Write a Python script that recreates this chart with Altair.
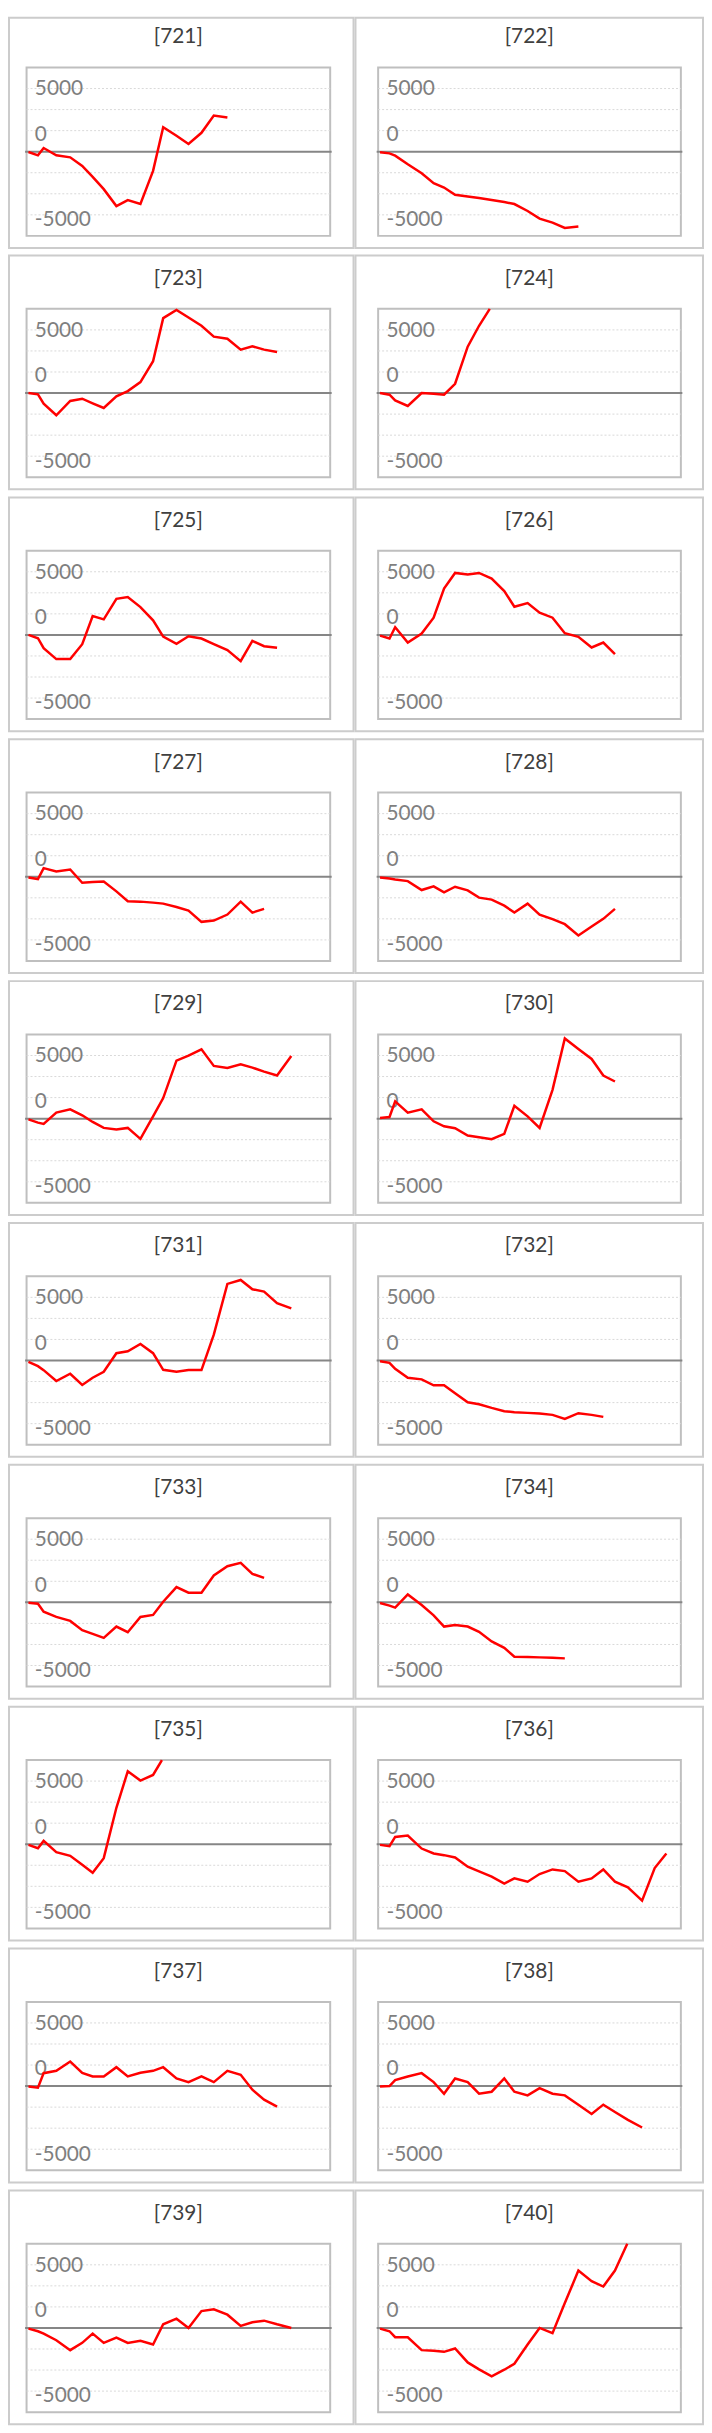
import altair as alt
import pandas as pd

# ---------------- data ----------------
# shared observation grid (x position of every observation, period units; 0..48 spans the plot box)
G = [0.3, 1.8, 2.7, 4.7, 6.9, 8.8, 10.45, 12.2, 14.2, 16.0, 18.0, 20.0, 21.6,
     23.7, 25.6, 27.65, 29.6, 31.75, 33.85, 35.7, 37.55, 39.6, 41.85, 43.85, 45.7]

V721 = [-40, -433, 433, -433, -669, -1693, -3000, -4449, -6457, -5748, -6220, -2283, 2913, 1900, 906, 2244, 4291, 4055]
V722 = [-79, -197, -472, -1496, -2559, -3740, -4252, -5118, -5315, -5512, -5748, -5984, -6220, -7047, -7953, -8425, -9055, -8898]
V723 = [0, -157, -1260, -2638, -945, -669, -1220, -1772, -394, 236, 1299, 3780, 8898, 9882, 8976, 7992, 6693, 6457, 5157, 5551, 5157, 4882]
V724 = [0, -197, -866, -1535, 0, -79, -197, 1102, 5512, 7992]
V725 = [0, -394, -1575, -2874, -2874, -1102, 2244, 1850, 4291, 4488, 3307, 1732, -197, -1063, -157, -433, -1102, -1811, -3110, -709, -1339, -1535]
V726 = [-79, -433, 906, -906, 157, 2047, 5512, 7362, 7165, 7362, 6693, 5197, 3346, 3780, 2638, 2047, 197, -236, -1496, -906, -2283]
V727 = [-79, -276, 1024, 630, 866, -709, -630, -551, -1732, -2913, -2953, -3071, -3189, -3583, -4016, -5354, -5197, -4488, -2953, -4252, -3819]
V728 = [-79, -197, -315, -512, -1575, -1142, -1850, -1181, -1614, -2480, -2717, -3425, -4252, -3189, -4488, -5039, -5630, -6969, -5906, -5000, -3819]
V729 = [-79, -472, -630, 709, 1102, 394, -394, -1102, -1299, -1102, -2402, 276, 2441, 6890, 7480, 8228, 6260, 6024, 6457, 6063, 5591, 5118, 7441]
V730 = [79, 197, 2047, 709, 1102, -315, -906, -1142, -2008, -2205, -2441, -1811, 1535, 276, -1102, 3425, 9528, 8268, 7087, 5118, 4409]
V731 = [-157, -669, -1142, -2441, -1575, -2913, -2047, -1339, 866, 1102, 1969, 866, -1102, -1339, -1142, -1142, 3071, 9095, 9567, 8465, 8189, 6811, 6181]
V732 = [-79, -276, -984, -2047, -2244, -2953, -2953, -3898, -4961, -5197, -5630, -6024, -6142, -6220, -6299, -6457, -6929, -6260, -6457, -6693]
V733 = [-39, -157, -1102, -1732, -2205, -3307, -3740, -4213, -2874, -3543, -1732, -1496, 79, 1811, 1142, 1142, 3189, 4291, 4685, 3386, 2913]
V734 = [-79, -394, -630, 945, -315, -1535, -2874, -2677, -2874, -3504, -4646, -5394, -6457, -6496, -6535, -6575, -6654]
V735 = [-79, -472, 394, -945, -1378, -2441, -3386, -1654, 4331, 8661, 7559, 8228]
V736 = [-79, -236, 866, 1024, -512, -1102, -1299, -1575, -2677, -3228, -3858, -4685, -4055, -4449, -3543, -2992, -3189, -4449, -4055, -2992, -4449, -5118, -6693, -2835, -1102]
V737 = [-39, -197, 1535, 1811, 2913, 1575, 1142, 1142, 2244, 1142, 1575, 1811, 2244, 906, 472, 1142, 472, 1811, 1339, -433, -1614, -2441]
V738 = [-39, 0, 709, 1142, 1535, 472, -906, 906, 472, -906, -669, 906, -669, -1102, -236, -906, -1102, -2205, -3307, -2205, -3071, -4016, -4921]
V739 = [-79, -394, -669, -1457, -2638, -1772, -669, -1772, -1142, -1772, -1535, -1969, 433, 1102, 0, 2008, 2205, 1575, 236, 669, 866, 433, 0]
V740 = [-79, -394, -1102, -1102, -2638, -2717, -2835, -2441, -4094, -4921, -5748, -4961, -4252, -1969, 0, -630, 2953, 6811, 5551, 4921, 6811]

NAMES = [str(n) for n in range(721, 741)]
VALUES = [V721, V722, V723, V724, V725, V726, V727, V728, V729, V730,
          V731, V732, V733, V734, V735, V736, V737, V738, V739, V740]
# series that leave the plot box through the top edge: x where they cross it
EXIT_X = {"724": 17.7, "735": 21.4, "740": 39.5}

TICK_TEXT = ["5000", "0", "-5000"]
GRID_Y = [7500, 5000, 2500, -2500, -5000, -7500]
Y_MIN, Y_MAX = -10000, 10000
X_MIN, X_MAX = 0, 48

# ---------------- layout (px) ----------------
PITCH = 243.1
COL_VIEW_X0 = [9.0, 358.0]
COL_VIEW_W = [347.0, 350.0]
COL_BOX = [(26.7, 332.5), (380.8, 685.7)]
COL_TITLE_X = [179.5, 533.0]
ROW0_VIEW_Y0 = 9.0
VIEW_Y0 = 5.5
VIEW_H = 235.5
ROW0_H = 232.0
BOX_TOP = 59.2
BOX_BOT = 228.8
TITLE_BASE = 35.0
LABEL_BASE = [87.3, 133.3, 219.0]
LABEL_DX = 8.3

FONT = "Lato"


def panel(i):
    name = NAMES[i]
    vals = VALUES[i]
    row, col = divmod(i, 2)
    x0 = COL_VIEW_X0[col]
    W = COL_VIEW_W[col]
    y0 = ROW0_VIEW_Y0 if row == 0 else VIEW_Y0 + row * PITCH
    H = ROW0_H if row == 0 else VIEW_H
    bx0, bx1 = COL_BOX[col]
    by0 = BOX_TOP + row * PITCH
    by1 = BOX_BOT + row * PITCH
    kx = (X_MAX - X_MIN) / (bx1 - bx0)
    ky = (Y_MAX - Y_MIN) / (by1 - by0)

    def ux(px):
        return X_MIN + (px - bx0) * kx

    def uy(py):
        return Y_MAX - (py - by0) * ky

    xs = alt.Scale(domain=[ux(x0), ux(x0 + W)], nice=False, zero=False)
    ys = alt.Scale(domain=[uy(y0 + H), uy(y0)], nice=False, zero=False)

    def X():
        return alt.X("x:Q", scale=xs, axis=None)

    def Y():
        return alt.Y("y:Q", scale=ys, axis=None)

    box = alt.Chart(pd.DataFrame({"x": [X_MIN], "x2": [X_MAX], "y": [Y_MIN], "y2": [Y_MAX]})).mark_rect(
        fill="white", stroke="#bfbfbf", strokeWidth=2
    ).encode(x=X(), x2="x2:Q", y=Y(), y2="y2:Q")

    grid = alt.Chart(pd.DataFrame({"y": GRID_Y, "x": [X_MIN] * len(GRID_Y), "x2": [X_MAX] * len(GRID_Y)})).mark_rule(
        color="#d9d9d9", strokeWidth=1, strokeDash=[2, 2]
    ).encode(x=X(), x2="x2:Q", y=Y())

    zero = alt.Chart(pd.DataFrame({"y": [0], "x": [X_MIN - 1.5 * kx], "x2": [X_MAX + 1.5 * kx]})).mark_rule(
        color="#868686", strokeWidth=2
    ).encode(x=X(), x2="x2:Q", y=Y())

    lab = pd.DataFrame({
        "x": [ux(bx0 + LABEL_DX)] * len(TICK_TEXT),
        "y": [uy(b + row * PITCH) for b in LABEL_BASE],
        "t": TICK_TEXT,
    })
    labels = alt.Chart(lab).mark_text(
        align="left", baseline="alphabetic", font=FONT, fontSize=21, color="#7f7f7f"
    ).encode(x=X(), y=Y(), text="t:N")

    ttl = pd.DataFrame({"x": [ux(COL_TITLE_X[col])], "y": [uy(TITLE_BASE + row * PITCH)], "t": ["[" + name + "]"]})
    title = alt.Chart(ttl).mark_text(
        align="center", baseline="alphabetic", font=FONT, fontSize=21, color="#404040"
    ).encode(x=X(), y=Y(), text="t:N")

    lx = list(G[:len(vals)])
    ly = list(vals)
    if name in EXIT_X:
        lx.append(EXIT_X[name])
        ly.append(Y_MAX)
    line = alt.Chart(pd.DataFrame({"x": lx, "y": ly})).mark_line(
        color="#ff0000", strokeWidth=2.5
    ).encode(x=X(), y=Y())

    return alt.layer(box, grid, zero, labels, title, line).properties(width=W, height=H)


rows = []
for r in range(10):
    rows.append(alt.hconcat(panel(2 * r), panel(2 * r + 1), spacing=0))

chart = alt.vconcat(*rows, spacing=5.6).configure_view(
    stroke="#cccccc", strokeWidth=2
).properties(padding=0, background="white")

chart.save("out.html", embed_options={"renderer": "svg", "actions": False})
